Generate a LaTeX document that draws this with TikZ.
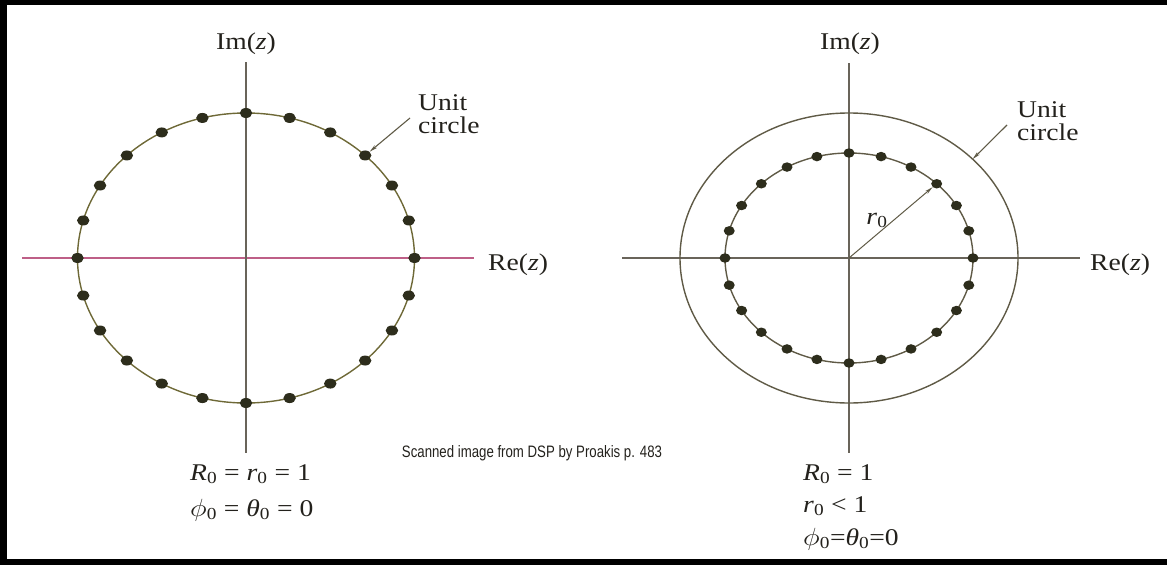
\documentclass[tikz,border=0pt]{standalone}
\usepackage{fontspec}
\setmainfont{Liberation Serif}
\setsansfont{Liberation Sans}
\usepackage{graphicx}
\usetikzlibrary{shapes.geometric,arrows.meta}
\definecolor{txt}{RGB}{35,33,28}
\definecolor{axisgray}{RGB}{105,100,90}
\definecolor{axispink}{RGB}{190,95,135}
\definecolor{circolive}{RGB}{110,105,55}
\definecolor{circgray}{RGB}{95,90,70}
\definecolor{dotcol}{RGB}{45,45,28}
\newcommand{\zsub}{\textsubscript{0}}
\newcommand{\wide}[1]{\scalebox{1.15}[1]{#1}}
\newcommand{\myphi}{\ensuremath{\phi}}
\tikzset{
  lbl/.style={inner sep=0pt, text=txt, font=\fontsize{24}{23}\selectfont},
  axisline/.style={draw=axisgray, line width=1.4pt},
  pinkaxis/.style={draw=axispink, line width=1.4pt},
  unitc/.style={line width=1.4pt},
  dotL/.style={shape=ellipse, fill=dotcol, draw=none, minimum width=12.5pt, minimum height=10pt, inner sep=0pt},
  dotR/.style={shape=ellipse, fill=dotcol, draw=none, minimum width=11pt, minimum height=9.5pt, inner sep=0pt},
  pointer/.style={draw=circgray, line width=1.1pt, -{Stealth[length=8pt,width=3.5pt]}},
}
\begin{document}
\begin{tikzpicture}[x=1pt,y=-1pt]
\useasboundingbox (0,0) rectangle (1167,565);
% frame
\fill[black] (0,0) rectangle (7,565);
\fill[black] (0,0) rectangle (1167,5);
\fill[black] (0,559) rectangle (1167,565);

% ---------------- left diagram ----------------
\coordinate (cL) at (246,258);
\coordinate (axLw) at (22,258);
\coordinate (axLe) at (474,258);
\coordinate (axLn) at (246,62);
\coordinate (axLs) at (246,453);
\draw[pinkaxis] (axLw) -- (axLe);
\draw[axisline] (axLn) -- (axLs);
\draw[unitc, draw=circolive] (cL) ellipse [x radius=168.5, y radius=145];
\foreach \i in {0,...,23}
  \node[dotL] (L\i) at ({246+168.5*cos(15*\i)},{258-145*sin(15*\i)}) {};

\node[lbl, anchor=base] (imL) at (246,49) {\wide{Im(\textit{z})}};
\node[lbl, anchor=base west] (reL) at (488,270) {\wide{Re(\textit{z})}};
\node[lbl, anchor=base west] (ucL1) at (418,110) {\wide{Unit}};
\node[lbl, anchor=base west] (ucL2) at (418,133) {\wide{circle}};
\coordinate (arL) at (410,118);
\draw[pointer] (arL) -- (L3);

\node[lbl, anchor=base west] (eqL1) at (190,480) {\wide{\textit{R}\zsub{} = \textit{r}\zsub{} = 1}};
\node[lbl, anchor=base west] (eqL2) at (190,516) {\wide{\myphi\zsub{} = \textit{θ}\zsub{} = 0}};

% caption
\node[inner sep=0pt, text=txt, font=\sffamily] (scan) at (532,453)
  {\resizebox{260pt}{12pt}{Scanned image from DSP by Proakis p. 483}};

% ---------------- right diagram ----------------
\coordinate (cR) at (849,258);
\coordinate (axRw) at (622,258);
\coordinate (axRe) at (1080,258);
\coordinate (axRn) at (849,63);
\coordinate (axRs) at (849,453);
\draw[axisline] (axRw) -- (axRe);
\draw[axisline] (axRn) -- (axRs);
\draw[unitc, draw=circgray] (cR) ellipse [x radius=169, y radius=145];
\draw[unitc, draw=circgray] (cR) ellipse [x radius=124, y radius=105];
\foreach \i in {0,...,23}
  \node[dotR] (R\i) at ({849+124*cos(15*\i)},{258-105*sin(15*\i)}) {};
\draw[pointer, line width=1pt] (cR) -- (R3);
\node[lbl, anchor=base] (r0) at (877,224) {\wide{\textit{r}\zsub}};

\node[lbl, anchor=base] (imR) at (850,49) {\wide{Im(\textit{z})}};
\node[lbl, anchor=base west] (reR) at (1090,270) {\wide{Re(\textit{z})}};
\node[lbl, anchor=base west] (ucR1) at (1017,117) {\wide{Unit}};
\node[lbl, anchor=base west] (ucR2) at (1017,140) {\wide{circle}};
\coordinate (arR) at (1007,125);
\coordinate (ucpt) at ({849+169*cos(43)},{258-145*sin(43)});
\draw[pointer] (arR) -- (ucpt);

\node[lbl, anchor=base west] (eqR1) at (803,480) {\wide{\textit{R}\zsub{} = 1}};
\node[lbl, anchor=base west] (eqR2) at (803,512) {\wide{\textit{r}\zsub{} < 1}};
\node[lbl, anchor=base west] (eqR3) at (803,545) {\wide{\myphi\zsub{}=\textit{θ}\zsub{}=0}};
\end{tikzpicture}
\end{document}
